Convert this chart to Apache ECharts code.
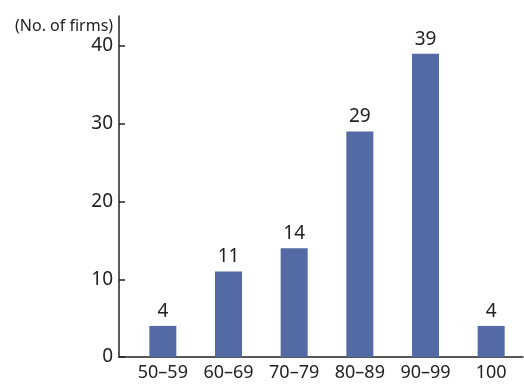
<!DOCTYPE html>
<html>
<head>
<meta charset="utf-8">
<script src="https://cdn.jsdelivr.net/npm/echarts@6/dist/echarts.min.js"></script>
<style>
  html, body { margin: 0; padding: 0; background: #fff; }
  #main { width: 524px; height: 385px; }
</style>
</head>
<body>
<div id="main"></div>
<script>
// score ranges and number of firms in each
const categories = ["50\u201359", "60\u201369", "70\u201379", "80\u201389", "90\u201399", "100"];
const firms = [4, 11, 14, 29, 39, 4];
const yTicks = { min: 0, max: 40, interval: 10 };

const font = "'Noto Sans', sans-serif";
const ink = "#222";
const hidden = { show: false };

let myChart = echarts.init(document.getElementById("main"));
let option = {
  animation: false,
  title: {
    text: "(No. of firms)",
    left: 10,
    top: 13,
    textStyle: { fontFamily: font, fontSize: 16, fontWeight: "normal", color: ink },
  },
  // grid 0 only draws the long L-shaped axis lines, grid 1 holds the bars
  grid: [
    { left: 119, right: 1, top: 16, bottom: 28 },
    { left: 130, right: 0, top: 46, bottom: 28 },
  ],
  xAxis: [
    {
      gridIndex: 0,
      type: "value",
      min: 0,
      max: 1,
      axisLine: { show: true, onZero: false, lineStyle: { color: ink, width: 1.5 } },
      axisTick: hidden,
      axisLabel: hidden,
      splitLine: hidden,
    },
    {
      gridIndex: 1,
      type: "category",
      data: categories,
      axisLine: hidden,
      axisTick: hidden,
      axisLabel: { fontFamily: font, fontSize: 18, color: ink, margin: 7 },
    },
  ],
  yAxis: [
    {
      gridIndex: 0,
      type: "value",
      min: 0,
      max: 1,
      axisLine: { show: true, onZero: false, lineStyle: { color: ink, width: 1.5 } },
      axisTick: hidden,
      axisLabel: hidden,
      splitLine: hidden,
    },
    {
      gridIndex: 1,
      type: "value",
      min: yTicks.min,
      max: yTicks.max,
      interval: yTicks.interval,
      offset: 11,
      splitLine: hidden,
      axisLine: hidden,
      axisTick: { show: true, inside: true, length: 6, lineStyle: { color: ink, width: 1.5 } },
      axisLabel: { fontFamily: font, fontSize: 19, color: ink, margin: 6 },
    },
  ],
  series: [
    {
      type: "bar",
      xAxisIndex: 1,
      yAxisIndex: 1,
      data: firms,
      barWidth: 27,
      itemStyle: { color: "#546aa5" },
      label: {
        show: true,
        position: "top",
        distance: 5,
        fontFamily: font,
        fontSize: 19,
        color: ink,
      },
    },
  ],
};
myChart.setOption(option);
</script>
</body>
</html>
